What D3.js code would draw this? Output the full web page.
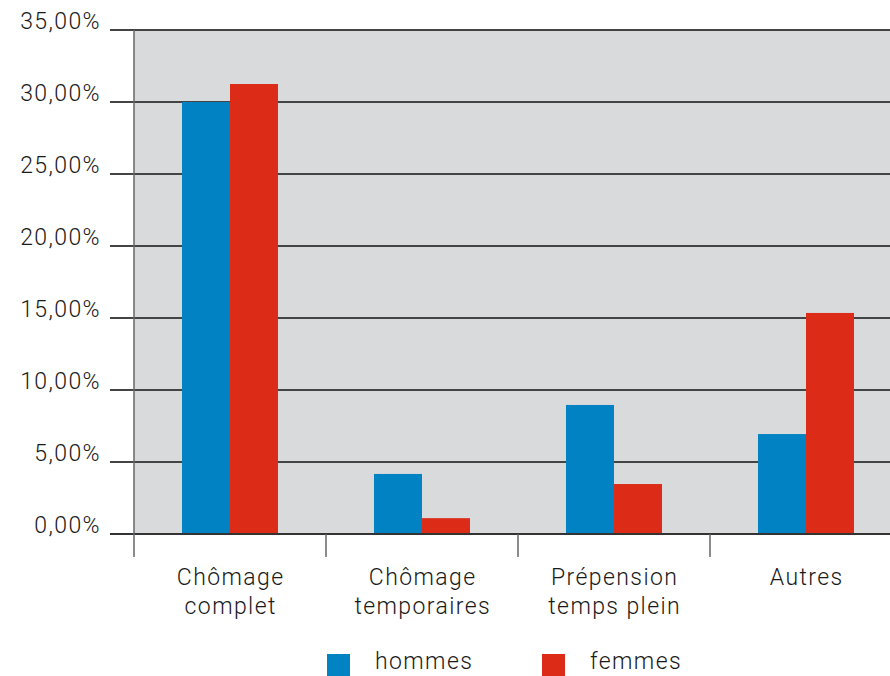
<!DOCTYPE html>
<html><head><meta charset="utf-8">
<script src="https://cdn.jsdelivr.net/npm/d3@7"></script>
<style>body{margin:0;background:#fff}svg{display:block}text{font-family:Roboto,"Liberation Sans",sans-serif;font-weight:300;fill:#1a1a1a;letter-spacing:1.4px}</style>
</head><body><svg id="c" width="890" height="676"></svg>
<script>
const categories = [["Chômage","complet"],["Chômage","temporaires"],["Prépension","temps plein"],["Autres"]];
const seriesNames = ["hommes","femmes"];
const hommes = [30.0, 4.17, 8.96, 6.94];
const femmes = [31.25, 1.1, 3.47, 15.35];
const yTicks = [0,5,10,15,20,25,30,35];
const colors = ["#0082c3","#dc2c18"];

const svg = d3.select("#c");
const x = d3.scaleBand().domain(d3.range(categories.length)).range([134, 902]);
const y = d3.scaleLinear().domain([0,35]).range([534, 30]);
const inner = d3.scaleBand().domain(seriesNames).range([x.bandwidth()*0.25, x.bandwidth()*0.75]);
const fmt = v => d3.format(".2f")(v).replace(".", ",") + "%";

svg.append("rect").attr("x",134).attr("y",y(35)).attr("width",890-134).attr("height",y(0)-y(35)).attr("fill","#d9dadc");

svg.append("g").selectAll("line").data(yTicks.filter(d=>d>0)).join("line")
  .attr("x1",110).attr("x2",890).attr("y1",d=>y(d)).attr("y2",d=>y(d))
  .attr("stroke","#444").attr("stroke-width",2);

const data = [hommes, femmes];
seriesNames.forEach((s,si)=>{
  svg.append("g").selectAll("rect").data(data[si]).join("rect")
    .attr("x",(d,i)=>x(i)+inner(s)).attr("width",inner.bandwidth())
    .attr("y",d=>y(d)).attr("height",d=>y(0)-y(d)).attr("fill",colors[si]);
});

svg.append("line").attr("x1",110).attr("x2",890).attr("y1",y(0)).attr("y2",y(0)).attr("stroke","#333").attr("stroke-width",2);
svg.append("line").attr("x1",134).attr("x2",134).attr("y1",y(35)).attr("y2",557).attr("stroke","#666").attr("stroke-width",1.5);
svg.append("g").selectAll("line").data(d3.range(1,categories.length)).join("line")
  .attr("x1",d=>x(d)).attr("x2",d=>x(d)).attr("y1",y(0)).attr("y2",557).attr("stroke","#666").attr("stroke-width",1.5);

svg.append("g").selectAll("text").data(yTicks).join("text")
  .attr("x",101).attr("y",d=>y(d)-1).attr("text-anchor","end").attr("font-size",23).text(fmt);

const cl = svg.append("g").selectAll("text").data(categories).join("text")
  .attr("text-anchor","middle").attr("font-size",23);
cl.each(function(lines,i){
  d3.select(this).selectAll("tspan").data(lines).join("tspan")
    .attr("x",x(i)+x.bandwidth()/2+0.7).attr("y",(d,j)=>585+j*29).text(d=>d);
});

const legX = [327, 542];
seriesNames.forEach((s,si)=>{
  svg.append("rect").attr("x",legX[si]).attr("y",654).attr("width",23).attr("height",22).attr("fill",colors[si]);
  svg.append("text").attr("x",legX[si]+48).attr("y",669).attr("font-size",23).text(s);
});
</script></body></html>
